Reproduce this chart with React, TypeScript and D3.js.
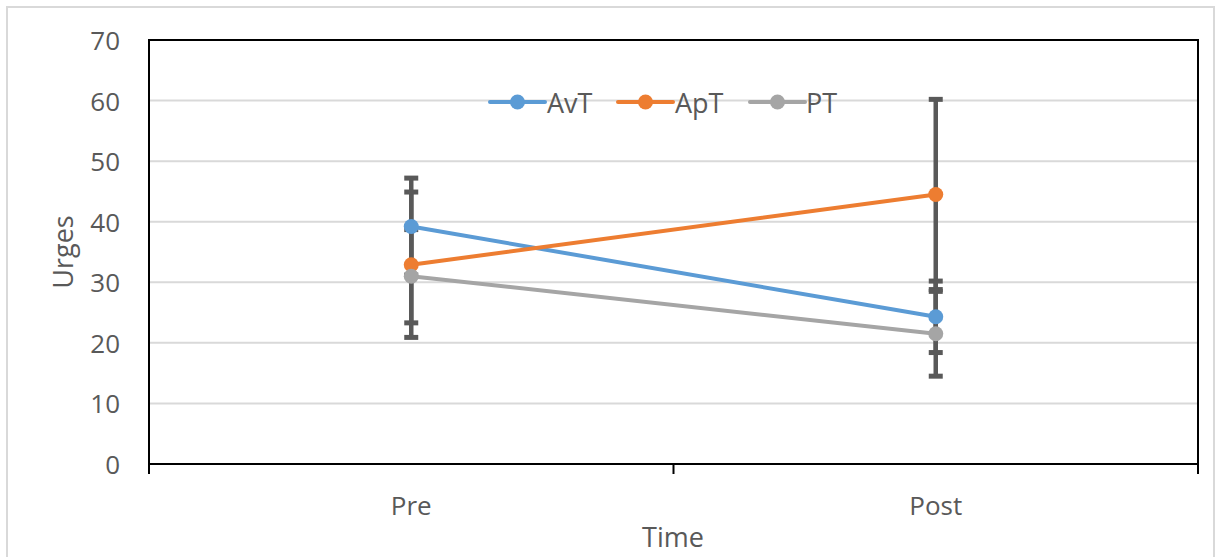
import React from "react";
import * as d3 from "d3";

const categories = ["Pre", "Post"];
const seriesNames = ["AvT", "ApT", "PT"];
const seriesColors = ["#5B9BD5", "#ED7D31", "#A5A5A5"];
const avtValues = [39.2, 24.3];
const avtErrors = [8.0, 5.9];
const aptValues = [32.9, 44.5];
const aptErrors = [12.0, 15.7];
const ptValues = [31.0, 21.5];
const ptErrors = [7.7, 7.0];
const yTicks = [0, 10, 20, 30, 40, 50, 60, 70];

const series = [
  { name: seriesNames[0], color: seriesColors[0], values: avtValues, errors: avtErrors },
  { name: seriesNames[1], color: seriesColors[1], values: aptValues, errors: aptErrors },
  { name: seriesNames[2], color: seriesColors[2], values: ptValues, errors: ptErrors },
];

const W = 1221;
const H = 557;
const left = 149;
const right = 1198;
const top = 40;
const bottom = 464;
const font = "'Open Sans', 'DejaVu Sans', sans-serif";
const textColor = "#595959";

export default function App() {
  const x = d3.scaleBand<string>().domain(categories).range([left, right]);
  const y = d3.scaleLinear().domain([0, 70]).range([bottom, top]);
  const cx = (c: string) => (x(c) as number) + x.bandwidth() / 2;
  const line = d3
    .line<number>()
    .x((_, i) => cx(categories[i]))
    .y((v) => y(v));

  const legendItems = [
    { x0: 490, tx: 547 },
    { x0: 618, tx: 675 },
    { x0: 750, tx: 806 },
  ];
  const legendY = 102;

  return (
    <svg
      width={W}
      height={H}
      style={{ position: "absolute", left: 0, top: 0, background: "#fff" }}
    >
      <rect x={7} y={7} width={1207} height={560} fill="#fff" stroke="#d9d9d9" strokeWidth={2} />
      {yTicks.slice(1, -1).map((t) => (
        <line key={t} x1={left} x2={right} y1={y(t)} y2={y(t)} stroke="#d9d9d9" strokeWidth={2} />
      ))}
      {yTicks.map((t) => (
        <text
          key={t}
          x={120}
          y={y(t)}
          textAnchor="end"
          dominantBaseline="central"
          fontFamily={font}
          fontSize={26}
          fill={textColor}
        >
          {t}
        </text>
      ))}
      <rect x={left} y={top} width={right - left} height={bottom - top} fill="none" stroke="#000" strokeWidth={2} />
      {[left, left + x.bandwidth(), right].map((tx, i) => (
        <line key={i} x1={tx} x2={tx} y1={bottom} y2={bottom + 10} stroke="#000" strokeWidth={2} />
      ))}
      {categories.map((c) => (
        <text
          key={c}
          x={cx(c)}
          y={505}
          textAnchor="middle"
          dominantBaseline="central"
          fontFamily={font}
          fontSize={26}
          fill={textColor}
        >
          {c}
        </text>
      ))}
      <text x={673} y={536} textAnchor="middle" dominantBaseline="central" fontFamily={font} fontSize={27} fill={textColor}>
        Time
      </text>
      <text
        transform={`translate(62,252) rotate(-90)`}
        textAnchor="middle"
        dominantBaseline="central"
        fontFamily={font}
        fontSize={27}
        fill={textColor}
      >
        Urges
      </text>
      {series.map((s) =>
        s.values.map((v, i) => {
          const px = cx(categories[i]);
          const hi = y(v + s.errors[i]);
          const lo = y(v - s.errors[i]);
          return (
            <g key={s.name + i} stroke="#595959">
              <line x1={px} x2={px} y1={hi} y2={lo} strokeWidth={4.5} />
              <line x1={px - 7} x2={px + 7} y1={hi} y2={hi} strokeWidth={5} />
              <line x1={px - 7} x2={px + 7} y1={lo} y2={lo} strokeWidth={5} />
            </g>
          );
        })
      )}
      {series.map((s) => (
        <path key={s.name} d={line(s.values) || ""} fill="none" stroke={s.color} strokeWidth={4} strokeLinecap="round" />
      ))}
      {series.map((s) =>
        s.values.map((v, i) => (
          <circle key={s.name + i} cx={cx(categories[i])} cy={y(v)} r={7.5} fill={s.color} />
        ))
      )}
      {series.map((s, i) => (
        <g key={s.name}>
          <line x1={legendItems[i].x0} x2={legendItems[i].x0 + 55} y1={legendY} y2={legendY} stroke={s.color} strokeWidth={4} strokeLinecap="round" />
          <circle cx={legendItems[i].x0 + 27.5} cy={legendY} r={7.5} fill={s.color} />
          <text
            x={legendItems[i].tx}
            y={legendY}
            dominantBaseline="central"
            fontFamily={font}
            fontSize={27}
            fill={textColor}
          >
            {s.name}
          </text>
        </g>
      ))}
    </svg>
  );
}
